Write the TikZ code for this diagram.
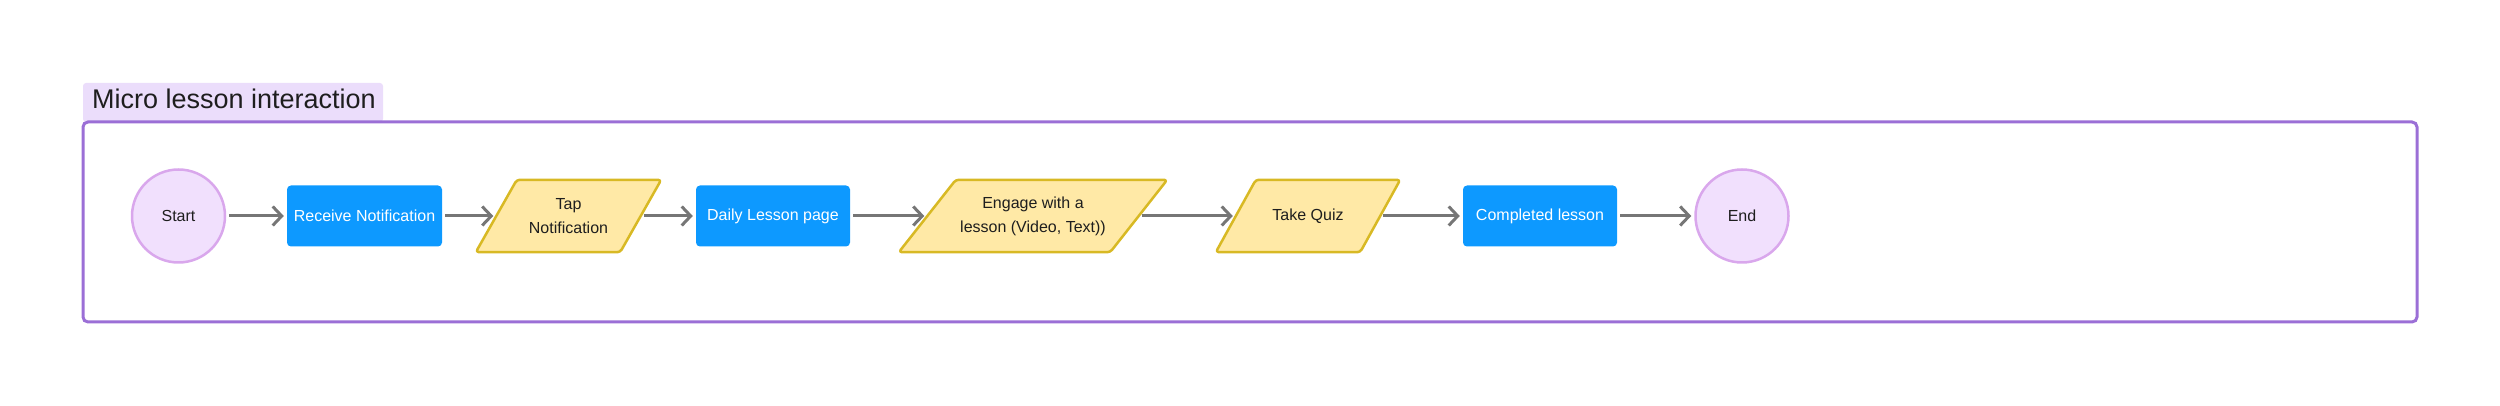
\documentclass[tikz,border=0pt]{standalone}
\usepackage{fontspec}
\setmainfont{Liberation Sans}
\usetikzlibrary{shapes.geometric,arrows.meta}
\pgfdeclarelayer{bglayer}
\pgfsetlayers{bglayer,main}
\definecolor{framec}{HTML}{9B6FD6}
\definecolor{titlebg}{HTML}{EBDDFB}
\definecolor{circfill}{HTML}{F1E0FD}
\definecolor{circdraw}{HTML}{D9A7EC}
\definecolor{bluebox}{HTML}{0D99FF}
\definecolor{yelfill}{HTML}{FFE9A6}
\definecolor{yeldraw}{HTML}{D8B924}
\definecolor{arrowc}{HTML}{767676}
\definecolor{txt}{HTML}{1E1E1E}
\tikzset{
  lbl/.style={font=\fontsize{16}{24}\selectfont, align=center},
  terminal/.style={lbl, circle, fill=circfill, draw=circdraw, line width=2.5pt, minimum size=93pt, inner sep=0pt, text=txt},
  process/.style={lbl, rectangle, fill=bluebox, rounded corners=4pt, minimum width=155pt, minimum height=61pt, inner sep=0pt, text=white},
  io/.style={lbl, rectangle, minimum height=72pt, inner sep=0pt, text=txt},
  ioshape/.style={fill=yelfill, draw=yeldraw, line width=2.5pt, rounded corners=3pt, line join=round},
  flow/.style={draw=arrowc, line width=3pt, -{Straight Barb[length=9pt,width=19pt]}, shorten >=3pt, shorten <=3pt}
}
\newcommand\drawio[2]{%
  \begin{pgfonlayer}{bglayer}
  \draw[ioshape] ([xshift=-#2/2]#1.south west) -- ([xshift=#2/2]#1.north west)
     -- ([xshift=#2/2]#1.north east) -- ([xshift=-#2/2]#1.south east) -- cycle;
  \end{pgfonlayer}}
\begin{document}
\begin{tikzpicture}[x=1pt,y=1pt]
\useasboundingbox (0,0) rectangle (2500,406);
% title tab
\fill[titlebg, rounded corners=3pt] (83,284) rectangle (383,323);
\node[anchor=base west, font=\fontsize{27}{32}\selectfont, text=txt, inner sep=0pt] (title) at (92,297) {Micro lesson interaction};
% frame
\draw[framec, line width=3pt, rounded corners=5pt] (83,84) rectangle (2417,284);
% nodes
\node[terminal] (start) at (178.5,190) {Start};
\node[process] (recv) at (364.5,190) {Receive Notification};
\node[io, minimum width=144pt] (tap) at (568.5,190) {Tap\\Notification};
\drawio{tap}{41pt}
\node[process, minimum width=154pt] (daily) at (773,190) {Daily Lesson page};
\node[io, minimum width=211pt] (engage) at (1033,190) {Engage with a\\lesson (Video, Text))};
\drawio{engage}{57pt}
\node[io, minimum width=144pt] (quiz) at (1308,190) {Take Quiz};
\drawio{quiz}{40pt}
\node[process, minimum width=154pt] (done) at (1540,190) {Completed lesson};
\node[terminal] (end) at (1742,190) {End};
% connectors
\draw[flow] (start) -- (recv);
\draw[flow] (recv) -- (tap);
\draw[flow] (tap) -- (daily);
\draw[flow] (daily) -- (engage);
\draw[flow] (engage) -- (quiz);
\draw[flow] (quiz) -- (done);
\draw[flow] (done) -- (end);
\end{tikzpicture}
\end{document}
